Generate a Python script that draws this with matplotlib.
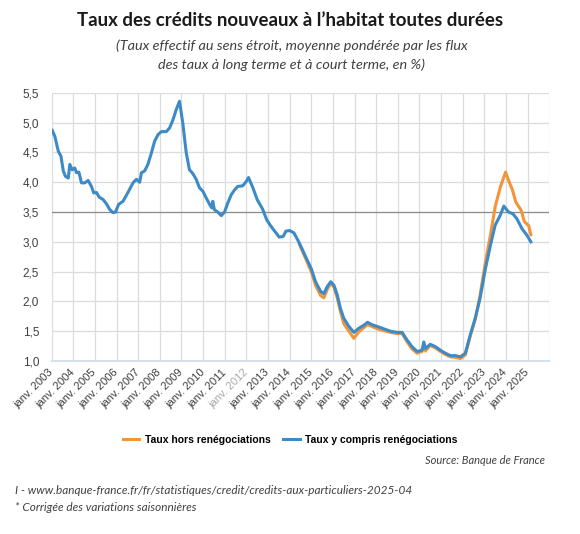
import numpy as np
import matplotlib.pyplot as plt
import matplotlib.transforms as mtransforms

# dates en années décimales, valeurs en %
annees_y = [2003.03, 2003.15, 2003.31, 2003.43, 2003.54, 2003.64, 2003.77, 2003.84, 2003.95,
            2004.07, 2004.15, 2004.26, 2004.38, 2004.53, 2004.69, 2004.84, 2004.95,
            2005.07, 2005.20, 2005.38, 2005.53, 2005.69, 2005.84, 2005.95,
            2006.10, 2006.30, 2006.53, 2006.76, 2006.92, 2007.07, 2007.15, 2007.30,
            2007.45, 2007.61, 2007.76, 2007.92, 2008.07, 2008.30, 2008.45, 2008.61,
            2008.76, 2008.91, 2009.06, 2009.22, 2009.37, 2009.52, 2009.68, 2009.83,
            2009.99, 2010.14, 2010.30, 2010.40, 2010.45, 2010.52, 2010.68, 2010.84,
            2010.99, 2011.14, 2011.30, 2011.45, 2011.60, 2011.83, 2011.99, 2012.10,
            2012.30, 2012.50, 2012.75, 2012.94, 2013.14, 2013.37, 2013.52, 2013.70,
            2013.83, 2014.00, 2014.20, 2014.45, 2014.74, 2015.00, 2015.20, 2015.43,
            2015.58, 2015.74, 2015.90, 2016.05, 2016.20, 2016.35, 2016.50, 2016.74,
            2016.97, 2017.20, 2017.43, 2017.60, 2017.80, 2018.05, 2018.35, 2018.66,
            2018.97, 2019.20, 2019.43, 2019.66, 2019.89, 2020.12, 2020.20, 2020.28,
            2020.50, 2020.74, 2020.97, 2021.20, 2021.43, 2021.66, 2021.89, 2022.12,
            2022.35, 2022.58, 2022.80, 2023.05, 2023.28, 2023.50, 2023.74, 2023.90,
            2024.12, 2024.32, 2024.50, 2024.74, 2024.97, 2025.15]
taux_y_compris = [4.87, 4.77, 4.52, 4.44, 4.19, 4.10, 4.07, 4.30, 4.21,
                  4.24, 4.16, 4.17, 3.99, 3.99, 4.03, 3.93, 3.82,
                  3.83, 3.75, 3.71, 3.64, 3.54, 3.49, 3.50,
                  3.63, 3.68, 3.83, 3.99, 4.05, 4.00, 4.16, 4.19,
                  4.30, 4.49, 4.69, 4.80, 4.85, 4.85, 4.91, 5.05,
                  5.22, 5.36, 5.00, 4.50, 4.21, 4.15, 4.05, 3.91,
                  3.85, 3.74, 3.63, 3.57, 3.68, 3.54, 3.50, 3.44,
                  3.50, 3.65, 3.79, 3.87, 3.93, 3.94, 4.01, 4.08,
                  3.91, 3.71, 3.55, 3.37, 3.26, 3.15, 3.08, 3.09,
                  3.18, 3.19, 3.15, 2.98, 2.75, 2.55, 2.33, 2.17,
                  2.13, 2.25, 2.33, 2.27, 2.11, 1.88, 1.72, 1.58,
                  1.48, 1.55, 1.60, 1.65, 1.61, 1.58, 1.54, 1.50,
                  1.48, 1.48, 1.35, 1.24, 1.16, 1.18, 1.32, 1.21,
                  1.28, 1.24, 1.18, 1.13, 1.09, 1.09, 1.07, 1.13,
                  1.44, 1.72, 2.05, 2.55, 2.94, 3.28, 3.45, 3.60,
                  3.50, 3.47, 3.39, 3.22, 3.11, 3.00]

annees_h = [2014.45, 2014.74, 2015.00, 2015.20, 2015.43, 2015.58, 2015.74, 2015.90,
            2016.05, 2016.20, 2016.35, 2016.50, 2016.74, 2016.97, 2017.20, 2017.43,
            2017.60, 2017.80, 2018.05, 2018.35, 2018.66, 2018.97, 2019.20, 2019.43,
            2019.66, 2019.89, 2020.12, 2020.20, 2020.28, 2020.50, 2020.74, 2020.97,
            2021.20, 2021.43, 2021.66, 2021.89, 2022.12, 2022.35, 2022.58, 2022.80,
            2023.05, 2023.28, 2023.50, 2023.74, 2023.98, 2024.12, 2024.30, 2024.45,
            2024.70, 2024.85, 2025.05, 2025.15]
taux_hors = [2.96, 2.72, 2.50, 2.27, 2.10, 2.06, 2.20, 2.30,
             2.24, 2.06, 1.83, 1.63, 1.50, 1.38, 1.49, 1.56,
             1.61, 1.58, 1.54, 1.51, 1.48, 1.46, 1.46, 1.32,
             1.20, 1.13, 1.16, 1.25, 1.17, 1.26, 1.22, 1.16,
             1.11, 1.07, 1.06, 1.04, 1.10, 1.42, 1.70, 2.10,
             2.66, 3.11, 3.59, 3.92, 4.17, 4.03, 3.87, 3.67,
             3.53, 3.34, 3.27, 3.12]

annees_ticks = list(range(2003, 2026))
labels_ticks = ['janv. %d' % a for a in annees_ticks]

bleu = '#3c8ac6'
orange = '#f39439'

fig = plt.figure(figsize=(5.8, 5.34), dpi=100)
ax = fig.add_axes([0.089, 0.324, 0.858, 0.502])

ax.plot(annees_h, taux_hors, color=orange, lw=2.2, label='Taux hors renégociations')
ax.plot(annees_y, taux_y_compris, color=bleu, lw=2.2, label='Taux y compris renégociations')

ax.set_xlim(2003, 2026)
ax.set_ylim(1.0, 5.5)
ax.set_xticks(annees_ticks + [2026])
ax.set_xticklabels(labels_ticks + [''], rotation=45, ha='right', va='center',
                   rotation_mode='anchor', fontsize=8, color='#404040',
                   family='Liberation Sans')
decal = mtransforms.ScaledTranslation(6 / 100, 0, fig.dpi_scale_trans)
for lab in ax.get_xticklabels():
    lab.set_transform(lab.get_transform() + decal)
ax.get_xticklabels()[9].set_color('#a8a8a8')
yt = np.arange(1.0, 5.51, 0.5)
ax.set_yticks(yt)
ax.set_yticklabels([('%.1f' % v).replace('.', ',') for v in yt], fontsize=8.5,
                   color='#404040', family='Liberation Sans')
ax.tick_params(axis='y', length=0, pad=9)
ax.tick_params(axis='x', length=0, pad=7)
ax.grid(True, color='#dcdcdc', lw=0.9)
ax.axhline(3.5, color='#8c8c8c', lw=0.9, zorder=1)
for s in ['top', 'right', 'left']:
    ax.spines[s].set_visible(False)
ax.spines['bottom'].set_color('#d3e1ee')
ax.spines['bottom'].set_linewidth(1.5)
ax.set_axisbelow(True)

fig.text(0.5, 0.962, "Taux des crédits nouveaux à l\u2019habitat toutes durées", ha='center',
         va='center', fontsize=13.4, fontweight='bold', family='Lato', color='#1a1a1a')
fig.text(0.503, 0.915, "(Taux effectif au sens étroit, moyenne pondérée par les flux",
         ha='center', va='center', fontsize=10.4, style='italic', family='Lato', color='#404040')
fig.text(0.503, 0.878, "des taux à long terme et à court terme, en %)",
         ha='center', va='center', fontsize=10.4, style='italic', family='Lato', color='#404040')

leg = fig.legend(loc='center', bbox_to_anchor=(0.5, 0.176), ncol=2, frameon=False,
                 handlelength=1.6, columnspacing=1.2, handletextpad=0.5,
                 prop={'family': 'Liberation Sans', 'weight': 'bold', 'size': 7.5})

fig.text(0.94, 0.137, "Source: Banque de France", ha='right', va='center', fontsize=8,
         style='italic', family='Lato', color='#404040')
fig.text(0.026, 0.082, "I - www.banque-france.fr/fr/statistiques/credit/credits-aux-particuliers-2025-04",
         ha='left', va='center', fontsize=8.5, style='italic', family='Lato', color='#404040')
fig.text(0.026, 0.05, "* Corrigée des variations saisonnières", ha='left', va='center',
         fontsize=8.5, style='italic', family='Lato', color='#404040')

fig.savefig('out.png', dpi=100)
